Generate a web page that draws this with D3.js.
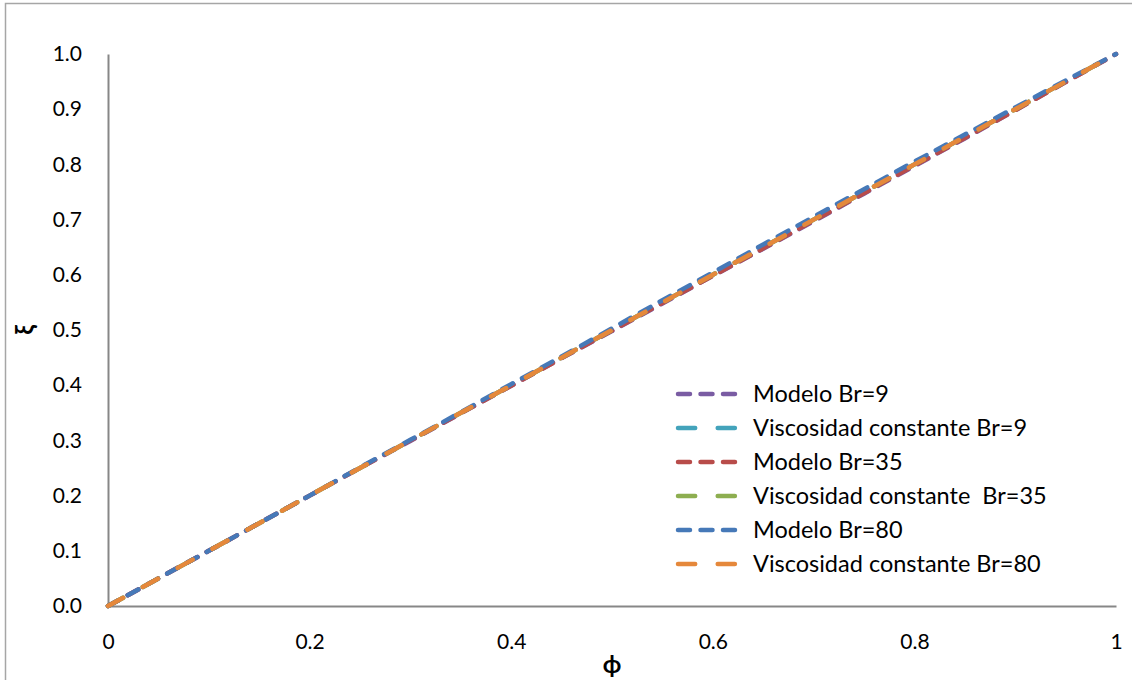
<!DOCTYPE html>
<html>
<head>
<meta charset="utf-8">
<script src="https://cdn.jsdelivr.net/npm/d3@7"></script>
<style>
  body { margin: 0; background: #fff; }
  svg { display: block; font-family: Lato, "Open Sans", sans-serif; }
</style>
</head>
<body>
<svg id="chart" width="1132" height="680"></svg>
<script>
const phi = [0, 0.05, 0.1, 0.15, 0.2, 0.25, 0.3, 0.35, 0.4, 0.45, 0.5, 0.55, 0.6, 0.65, 0.7, 0.75, 0.8, 0.85, 0.9, 0.95, 1];
const modeloBr9 = [0, 0.050, 0.100, 0.150, 0.200, 0.250, 0.299, 0.349, 0.399, 0.449, 0.498, 0.548, 0.598, 0.647, 0.697, 0.747, 0.797, 0.847, 0.898, 0.949, 1];
const viscBr9 = [0, 0.050, 0.100, 0.150, 0.200, 0.250, 0.300, 0.350, 0.400, 0.450, 0.500, 0.550, 0.600, 0.650, 0.700, 0.750, 0.800, 0.850, 0.900, 0.950, 1];
const modeloBr35 = [0, 0.050, 0.100, 0.150, 0.200, 0.250, 0.300, 0.349, 0.399, 0.449, 0.499, 0.549, 0.598, 0.648, 0.698, 0.748, 0.798, 0.848, 0.898, 0.949, 1];
const viscBr35 = [0, 0.050, 0.100, 0.150, 0.200, 0.250, 0.300, 0.350, 0.400, 0.450, 0.500, 0.550, 0.600, 0.650, 0.700, 0.750, 0.800, 0.850, 0.900, 0.950, 1];
const modeloBr80 = [0, 0.050, 0.100, 0.150, 0.200, 0.251, 0.301, 0.351, 0.402, 0.452, 0.503, 0.554, 0.604, 0.655, 0.705, 0.755, 0.805, 0.854, 0.903, 0.952, 1];
const viscBr80 = [0, 0.050, 0.100, 0.150, 0.200, 0.250, 0.300, 0.350, 0.400, 0.450, 0.500, 0.550, 0.600, 0.650, 0.700, 0.750, 0.800, 0.850, 0.900, 0.950, 1];

const seriesNames = ['Modelo Br=9', 'Viscosidad constante Br=9', 'Modelo Br=35', 'Viscosidad constante  Br=35', 'Modelo Br=80', 'Viscosidad constante Br=80'];
const seriesValues = [modeloBr9, viscBr9, modeloBr35, viscBr35, modeloBr80, viscBr80];
const seriesColors = ['#7a5ca3', '#43a3bb', '#b84c4a', '#8dae50', '#4679b8', '#e5883b'];
const xTicks = [0, 0.2, 0.4, 0.6, 0.8, 1];
const yTicks = [0, 0.1, 0.2, 0.3, 0.4, 0.5, 0.6, 0.7, 0.8, 0.9, 1.0];

const svg = d3.select('svg#chart');
const plot = { left: 108, right: 1116, top: 54, bottom: 606 };

// outer chart border
svg.append('path')
  .attr('d', 'M5.5,690 L5.5,3.5 L1140,3.5')
  .attr('fill', 'none')
  .attr('stroke', '#a6a6a6')
  .attr('stroke-width', 1.5);

const x = d3.scaleLinear().domain([0, 1]).range([plot.left, plot.right]);
const y = d3.scaleLinear().domain([0, 1]).range([plot.bottom, plot.top]);

const xAxis = svg.append('g')
  .attr('transform', `translate(0,${plot.bottom})`)
  .call(d3.axisBottom(x).tickValues(xTicks).tickSize(0).tickPadding(28)
    .tickFormat(d => d === 0 || d === 1 ? d3.format('d')(d) : d3.format('.1f')(d)));
const yAxis = svg.append('g')
  .attr('transform', `translate(${plot.left},0)`)
  .call(d3.axisLeft(y).tickValues(yTicks).tickSize(0).tickPadding(26).tickFormat(d3.format('.1f')));

[xAxis, yAxis].forEach(a => {
  a.select('.domain').attr('stroke', '#878787').attr('stroke-width', 2);
  a.selectAll('text').attr('font-size', 21).attr('fill', '#000')
    .attr('font-family', 'Lato, "Open Sans", sans-serif');
});
xAxis.selectAll('text').attr('dy', '0.71em').attr('y', 28);

// axis titles
svg.append('text')
  .attr('x', 612).attr('y', 673)
  .attr('text-anchor', 'middle')
  .attr('font-size', 24).attr('font-weight', 'bold')
  .text('ϕ');
svg.append('text')
  .attr('transform', 'translate(33,330) rotate(-90)')
  .attr('text-anchor', 'middle')
  .attr('font-size', 24).attr('font-weight', 'bold')
  .text('ξ');

const line = d3.line()
  .x((d, i) => x(phi[i]))
  .y(d => y(d));

const dashFor = i => i % 2 === 0 ? '12,10.5' : '17.2,22.5';

seriesValues.forEach((vals, i) => {
  svg.append('path')
    .datum(vals)
    .attr('d', line)
    .attr('fill', 'none')
    .attr('stroke', seriesColors[i])
    .attr('stroke-width', 4.5)
    .attr('stroke-linecap', 'round')
    .attr('stroke-dasharray', dashFor(i));
});

// legend
const legend = svg.append('g');
seriesNames.forEach((name, i) => {
  const ly = 394 + i * 34;
  legend.append('line')
    .attr('x1', 678).attr('x2', 736)
    .attr('y1', ly).attr('y2', ly)
    .attr('stroke', seriesColors[i])
    .attr('stroke-width', 4.5)
    .attr('stroke-linecap', 'round')
    .attr('stroke-dasharray', dashFor(i));
  legend.append('text')
    .attr('x', 753).attr('y', ly)
    .attr('dy', '0.35em')
    .attr('font-size', 23.5)
    .attr('xml:space', 'preserve')
    .style('white-space', 'pre')
    .text(name);
});
</script>
</body>
</html>
